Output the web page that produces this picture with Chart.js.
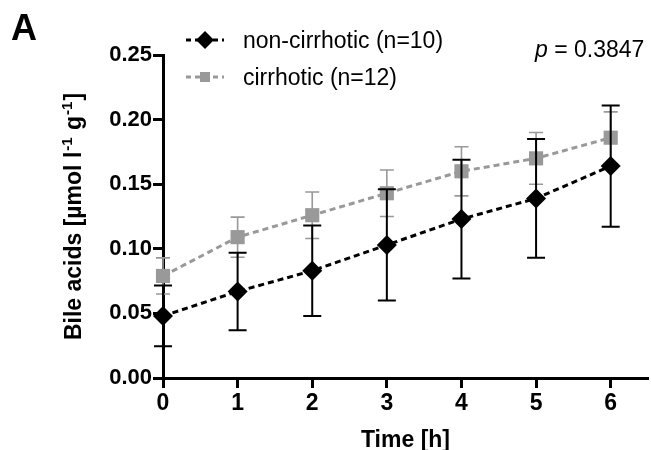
<!DOCTYPE html>
<html>
<head>
    <title>Bile acids</title>
    <style>
        body {
            margin: 0;
            background: #fff;
        }
        canvas {
            display: block;
        }
    </style>
    <script src="https://cdn.jsdelivr.net/npm/chart.js"></script>
</head>
<body>
    <canvas id="bileChart" width="651" height="450"></canvas>
    <script>
        // data
        var times = [0, 1, 2, 3, 4, 5, 6];
        var nonCirrhotic = [0.048, 0.067, 0.083, 0.103, 0.123, 0.139, 0.164];
        var nonCirrhoticSD = [0.0235, 0.030, 0.035, 0.043, 0.046, 0.046, 0.047];
        var cirrhotic = [0.079, 0.109, 0.126, 0.143, 0.160, 0.170, 0.186];
        var cirrhoticSD = [0.014, 0.0155, 0.018, 0.018, 0.019, 0.020, 0.020];
        var yTicks = [0, 0.05, 0.10, 0.15, 0.20, 0.25];
        var seriesNames = ['non-cirrhotic (n=10)', 'cirrhotic (n=12)'];
        var pValue = '0.3847';

        var FONT = 'Arial, "Liberation Sans", sans-serif';
        var GREY = '#999999';

        function pointsOf(values) {
            return times.map(function (t, i) { return { x: t, y: values[i] }; });
        }

        var errorBars = {
            id: 'errorBars',
            beforeDatasetDraw: function (chart, args) {
                var sd = args.index === 0 ? nonCirrhoticSD : cirrhoticSD;
                var mean = args.index === 0 ? nonCirrhotic : cirrhotic;
                var xs = chart.scales.x, ys = chart.scales.y;
                var ctx = chart.ctx;
                var cap = args.index === 0 ? 9 : 7;
                ctx.save();
                ctx.strokeStyle = args.index === 0 ? '#000' : GREY;
                ctx.lineWidth = args.index === 0 ? 2 : 1.6;
                for (var i = 0; i < times.length; i++) {
                    var x = xs.getPixelForValue(times[i]);
                    var hi = ys.getPixelForValue(mean[i] + sd[i]);
                    var lo = ys.getPixelForValue(mean[i] - sd[i]);
                    ctx.beginPath();
                    ctx.moveTo(x, hi); ctx.lineTo(x, lo);
                    ctx.moveTo(x - cap, hi); ctx.lineTo(x + cap, hi);
                    ctx.moveTo(x - cap, lo); ctx.lineTo(x + cap, lo);
                    ctx.stroke();
                }
                ctx.restore();
            }
        };

        var annotations = {
            id: 'annotations',
            afterDraw: function (chart) {
                var ctx = chart.ctx;
                ctx.save();
                ctx.fillStyle = '#000';

                // panel letter
                ctx.font = 'bold 36px ' + FONT;
                ctx.textBaseline = 'alphabetic';
                ctx.fillText('A', 11, 40);

                // legend
                var rows = [
                    { y: 40, color: '#000', shape: 'diamond' },
                    { y: 77, color: GREY, shape: 'square' }
                ];
                rows.forEach(function (r, i) {
                    ctx.strokeStyle = r.color;
                    ctx.fillStyle = r.color;
                    ctx.lineWidth = 3;
                    ctx.setLineDash([5, 4]);
                    ctx.beginPath();
                    ctx.moveTo(186, r.y); ctx.lineTo(224, r.y);
                    ctx.stroke();
                    ctx.setLineDash([]);
                    ctx.beginPath();
                    if (r.shape === 'diamond') {
                        ctx.moveTo(205, r.y - 9); ctx.lineTo(214, r.y);
                        ctx.lineTo(205, r.y + 9); ctx.lineTo(196, r.y);
                    } else {
                        ctx.rect(200, r.y - 5, 10, 10);
                    }
                    ctx.fill();
                    ctx.fillStyle = '#000';
                    ctx.font = '23px ' + FONT;
                    ctx.fillText(seriesNames[i], 243, r.y + 8);
                });

                // p value
                ctx.font = 'italic 23px ' + FONT;
                ctx.fillText('p', 535, 57);
                var pw = ctx.measureText('p').width;
                ctx.font = '23px ' + FONT;
                ctx.fillText(' = ' + pValue, 535 + pw, 57);

                // y axis title with superscripts
                var parts = [
                    { t: 'Bile acids [\u00b5mol l', sup: false },
                    { t: '-1', sup: true },
                    { t: ' g', sup: false },
                    { t: '-1', sup: true },
                    { t: ']', sup: false }
                ];
                var main = 'bold 23px ' + FONT, small = 'bold 15px ' + FONT;
                var total = 0;
                parts.forEach(function (p) {
                    ctx.font = p.sup ? small : main;
                    p.w = ctx.measureText(p.t).width + (p.sup ? 2 : 0);
                    total += p.w;
                });
                var cy = (chart.chartArea.top + chart.chartArea.bottom) / 2;
                ctx.translate(81, cy);
                ctx.rotate(-Math.PI / 2);
                var pos = -total / 2;
                parts.forEach(function (p) {
                    ctx.font = p.sup ? small : main;
                    ctx.fillText(p.t, pos + (p.sup ? 1 : 0), p.sup ? -9 : 0);
                    pos += p.w;
                });
                ctx.restore();
            }
        };

        var ctx = document.getElementById('bileChart').getContext('2d');
        var bileChart = new Chart(ctx, {
            type: 'line',
            data: {
                datasets: [
                    {
                        label: seriesNames[0],
                        data: pointsOf(nonCirrhotic),
                        borderColor: '#000',
                        backgroundColor: '#000',
                        borderWidth: 3,
                        borderDash: [6, 4],
                        pointStyle: 'rectRot',
                        pointRadius: 10,
                        pointBorderWidth: 0,
                        pointBackgroundColor: '#000',
                        tension: 0,
                        clip: false
                    },
                    {
                        label: seriesNames[1],
                        data: pointsOf(cirrhotic),
                        borderColor: GREY,
                        backgroundColor: GREY,
                        borderWidth: 3,
                        borderDash: [6, 4],
                        pointStyle: 'rect',
                        pointRadius: 10,
                        pointBorderWidth: 0,
                        pointBackgroundColor: GREY,
                        tension: 0,
                        clip: false
                    }
                ]
            },
            options: {
                responsive: false,
                devicePixelRatio: 1,
                animation: false,
                layout: {
                    autoPadding: false,
                    padding: { top: 55, right: 3, left: 0, bottom: 0 }
                },
                plugins: {
                    legend: { display: false },
                    tooltip: { enabled: false }
                },
                scales: {
                    x: {
                        type: 'linear',
                        min: 0,
                        max: 6.5,
                        afterBuildTicks: function (s) {
                            s.ticks = times.map(function (v) { return { value: v }; });
                        },
                        afterFit: function (s) {
                            s.height = 72;
                            s.paddingLeft = 0;
                            s.paddingRight = 0;
                        },
                        grid: {
                            display: true,
                            drawOnChartArea: false,
                            drawTicks: true,
                            tickLength: 10,
                            tickWidth: 3,
                            color: '#000'
                        },
                        border: { display: true, color: '#000', width: 3 },
                        ticks: {
                            color: '#000',
                            padding: 2,
                            maxRotation: 0,
                            font: { family: FONT, size: 23, weight: 'bold' }
                        },
                        title: {
                            display: true,
                            text: 'Time [h]',
                            color: '#000',
                            padding: { top: 0, bottom: -4 },
                            font: { family: FONT, size: 23, weight: 'bold' }
                        }
                    },
                    y: {
                        min: 0,
                        max: 0.25,
                        afterBuildTicks: function (s) {
                            s.ticks = yTicks.map(function (v) { return { value: v }; });
                        },
                        afterFit: function (s) {
                            s.width = 163;
                            s.paddingTop = 0;
                            s.paddingBottom = 0;
                        },
                        grid: {
                            display: true,
                            drawOnChartArea: false,
                            drawTicks: true,
                            tickLength: 10,
                            tickWidth: 3,
                            color: '#000'
                        },
                        border: { display: true, color: '#000', width: 3 },
                        ticks: {
                            color: '#000',
                            padding: 1,
                            callback: function (v) { return v.toFixed(2); },
                            font: { family: FONT, size: 22, weight: 'bold' }
                        }
                    }
                }
            },
            plugins: [errorBars, annotations]
        });
    </script>
</body>
</html>
